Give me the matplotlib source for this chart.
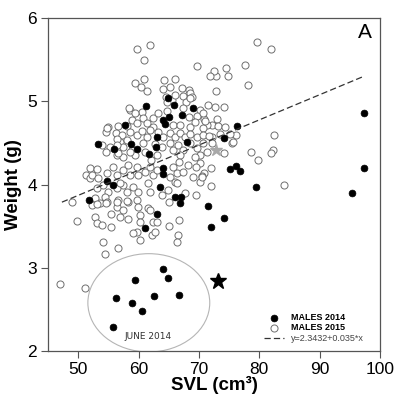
import matplotlib
matplotlib.use("Agg")
import matplotlib.pyplot as plt
from matplotlib.patches import Ellipse

plt.rcParams['font.family'] = ['Liberation Sans', 'DejaVu Sans']

# MALES 2014 (filled)
m14_x = [55.8, 56.3, 58.9, 59.4, 60.6, 62.5, 64.0, 64.9, 66.7,
         97.3, 97.3, 95.3, 79.4, 76.3, 74.1, 75.1, 76.1, 76.8, 71.5, 74.1, 72.0,
         64.9, 65.9, 61.2, 65.0, 64.0, 69.0, 67.2, 64.4, 57.7, 53.3, 58.7, 59.7,
         55.9, 63.0, 68.0, 62.9, 61.7, 64.0, 64.0, 54.8, 55.8, 63.6, 66.0, 51.8,
         67.0, 66.9, 63.0, 61.1]
m14_y = [2.29, 2.64, 2.58, 2.85, 2.48, 2.66, 2.98, 2.88, 2.67,
         4.86, 4.20, 3.90, 3.97, 4.70, 4.56, 4.19, 4.22, 4.16, 3.74, 3.60, 3.49,
         5.04, 4.95, 4.94, 4.81, 4.78, 4.92, 4.84, 4.73, 4.71, 4.49, 4.49, 4.43,
         4.43, 4.57, 4.51, 4.45, 4.37, 4.20, 4.13, 4.04, 4.00, 3.97, 3.85, 3.82,
         3.85, 3.78, 3.65, 3.48]

# MALES 2015 (open)
m15_x = [59.7, 61.9, 60.9, 60.9, 59.4, 60.4, 61.4, 64.2, 66.0, 64.0, 67.2, 68.3,
         69.7, 65.2, 68.6, 64.5, 68.8, 65.5, 79.6, 81.9, 77.6, 78.1, 72.8, 74.8,
         74.5, 72.8, 72.5, 71.8, 74.1, 72.6, 71.5, 70.2, 73.0, 72.2, 71.3, 70.7,
         70.8, 73.5, 72.2, 74.1, 72.2, 70.2, 70.2, 72.0, 70.8, 72.0, 70.2, 69.5,
         84.1, 82.4, 82.3, 81.9, 79.8, 78.6, 76.1, 75.5, 70.5,
         67.3, 66.0, 67.8, 68.5, 64.7, 58.6, 60.6, 60.7, 62.4, 63.2, 64.7, 67.4,
         68.3, 69.7, 70.7, 71.0, 58.9, 59.7, 58.1, 61.4, 62.4, 65.7, 66.9, 68.5,
         69.3, 73.1, 74.3, 54.9, 56.6,
         54.6, 56.3, 57.3, 58.6, 59.7, 60.6, 61.4, 61.9, 63.2, 64.0, 65.2, 66.0,
         66.9, 67.7, 68.5, 69.7, 70.7, 71.6, 75.1,
         56.9, 58.1, 53.9, 55.3, 57.4, 58.9, 60.7, 61.1, 62.7, 63.9, 65.2, 65.7,
         66.5, 67.4, 68.5, 69.7, 70.7, 71.3, 75.6,
         56.4, 57.4, 59.4, 63.0, 66.9, 69.3,
         54.8, 54.6, 52.0, 51.3, 52.0, 58.4, 59.4, 53.1,
         52.3, 53.3, 54.8, 55.8, 56.4, 57.4, 58.2, 58.6, 59.7, 59.9, 61.1, 61.9,
         62.4, 63.0, 65.7, 66.4, 65.2, 66.0, 67.4, 68.2, 69.5, 70.5, 69.0,
         53.1, 54.1, 54.9, 56.4, 57.4, 58.1, 59.1, 59.9, 61.6, 61.9, 63.9, 64.9,
         66.4, 67.7, 65.0,
         52.8, 53.6, 54.4, 54.8, 56.6, 56.4, 58.2, 59.7, 59.9, 57.4, 56.9, 55.4,
         52.8, 53.1, 53.9, 55.4, 58.2, 60.2, 60.2, 61.6, 61.9, 62.4, 63.0, 62.2,
         62.7, 59.7, 59.1, 60.2, 65.0, 66.7, 66.5, 66.4, 54.1, 56.6, 54.4,
         49.0, 49.8, 52.3, 53.1, 54.6, 56.4, 58.1, 47.0, 51.1,
         56.4, 56.4, 56.6, 58.6, 57.0, 62.0, 66.7]
m15_y = [5.63, 5.68, 5.50, 5.27, 5.22, 5.17, 5.12, 5.26, 5.27, 5.15, 5.16, 5.14,
         5.42, 5.17, 5.10, 5.05, 5.05, 5.01, 5.71, 5.63, 5.44, 5.20, 5.12, 5.30,
         5.40, 5.30, 5.36, 5.30, 4.93, 4.93, 4.95, 4.90, 4.79, 4.72, 4.72, 4.68,
         4.79, 4.61, 4.57, 4.38, 4.50, 4.35, 4.26, 4.20, 4.14, 3.98, 4.03, 3.87,
         4.00, 4.60, 4.42, 4.38, 4.29, 4.39, 4.60, 4.50, 4.10,
         5.06, 5.08, 4.99, 5.04, 4.99, 4.89, 4.87, 4.80, 4.80, 4.86, 4.88, 4.92,
         4.81, 4.82, 4.86, 4.76, 4.77, 4.74, 4.70, 4.74, 4.69, 4.71, 4.71, 4.69,
         4.75, 4.70, 4.69, 4.69, 4.70,
         4.63, 4.62, 4.59, 4.63, 4.59, 4.64, 4.57, 4.65, 4.63, 4.57, 4.62, 4.57,
         4.62, 4.57, 4.61, 4.57, 4.59, 4.58, 4.61,
         4.51, 4.53, 4.47, 4.45, 4.45, 4.41, 4.50, 4.39, 4.49, 4.45, 4.50, 4.41,
         4.47, 4.41, 4.50, 4.44, 4.50, 4.39, 4.51,
         4.35, 4.33, 4.35, 4.35, 4.35, 4.33,
         4.68, 4.39, 4.20, 4.11, 4.08, 4.92, 4.86, 4.19,
         4.11, 4.08, 4.14, 4.21, 4.11, 4.17, 4.23, 4.11, 4.21, 4.11, 4.15, 4.21,
         4.11, 4.17, 4.21, 4.14, 4.09, 4.03, 4.15, 4.23, 4.21, 4.09, 4.09,
         3.96, 4.00, 3.91, 3.96, 4.00, 3.91, 3.97, 3.91, 4.02, 3.91, 3.87, 3.93,
         4.02, 3.90, 3.79,
         3.84, 3.78, 3.85, 3.79, 3.81, 3.73, 3.79, 3.81, 3.73, 3.69, 3.61, 3.65,
         3.61, 3.54, 3.51, 3.49, 3.59, 3.63, 3.55, 3.72, 3.69, 3.55, 3.55, 3.39,
         3.43, 3.43, 3.42, 3.33, 3.50, 3.57, 3.39, 3.31, 3.31, 3.24, 3.17,
         3.79, 3.56, 3.75, 3.77, 3.78, 3.79, 3.80, 2.80, 2.76,
         4.55, 4.48, 4.38, 4.39, 4.02, 4.30, 4.27]

# regression line as drawn in the figure
fit_a = 2.36
fit_b = 0.0302
fit_xrange = [47.3, 97.3]
fit_label = "y=2.3432+0.035*x"

star_grey = (72.8, 4.41)
star_black = (73.1, 2.84)
june_center = (61.7, 2.58)
june_size = (20.2, 1.18)

fig = plt.figure(figsize=(3.97, 3.99), dpi=100)
ax = fig.add_axes([0.121, 0.120, 0.836, 0.835])

ax.scatter(m15_x, m15_y, s=26, facecolors='white', edgecolors='#6e6e6e',
           linewidths=0.7, label='MALES 2015', zorder=2)
ax.scatter(m14_x, m14_y, s=24, c='black', edgecolors='black', linewidths=0.5,
           label='MALES 2014', zorder=3)
fx = fit_xrange
ax.plot(fx, [fit_a + fit_b * v for v in fx], ls=(0, (5, 2.5)), color='#333333',
        lw=0.9, label=fit_label, zorder=4)

ax.plot(*star_grey, marker='*', ms=9, color='#a8a8a8', zorder=4)
ax.plot(*star_black, marker='*', ms=12, color='black', zorder=4)

ax.add_patch(Ellipse(june_center, june_size[0], june_size[1], fill=False,
                     edgecolor='#b5b5b5', lw=0.8, zorder=1))
ax.text(61.6, 2.17, 'JUNE 2014', fontsize=6.5, color='#333333',
        family='DejaVu Sans', ha='center', va='center')
ax.text(98.6, 5.83, 'A', fontsize=15, ha='right', va='center')

ax.set_xlim(45, 100)
ax.set_ylim(2, 6)
ax.set_xticks([50, 60, 70, 80, 90, 100])
ax.set_yticks([2, 3, 4, 5, 6])
ax.tick_params(direction='out', length=5, width=0.8, labelsize=12.5,
               colors='#555555', labelcolor='black', pad=3)
for sp in ax.spines.values():
    sp.set_color('#555555')
    sp.set_linewidth(0.9)

ax.set_xlabel('SVL (cm³)', fontsize=13.5, fontweight='bold')
ax.xaxis.set_label_coords(0.5, -0.076)
ax.xaxis.label.set_va('top')
ax.set_ylabel('Weight (g)', fontsize=13.5, fontweight='bold', labelpad=4)

h, l = ax.get_legend_handles_labels()
order = [1, 0, 2]
leg = ax.legend([h[i] for i in order], [l[i] for i in order],
                loc='lower left', bbox_to_anchor=(0.65, 0.025), frameon=False,
                fontsize=6.5, handlelength=2.2, handletextpad=0.8,
                labelspacing=0.15, borderpad=0, borderaxespad=0)
for i, t in enumerate(leg.get_texts()):
    if i < 2:
        t.set_fontweight('bold')
    else:
        t.set_color('#444444')

fig.savefig('out.png', dpi=100)
